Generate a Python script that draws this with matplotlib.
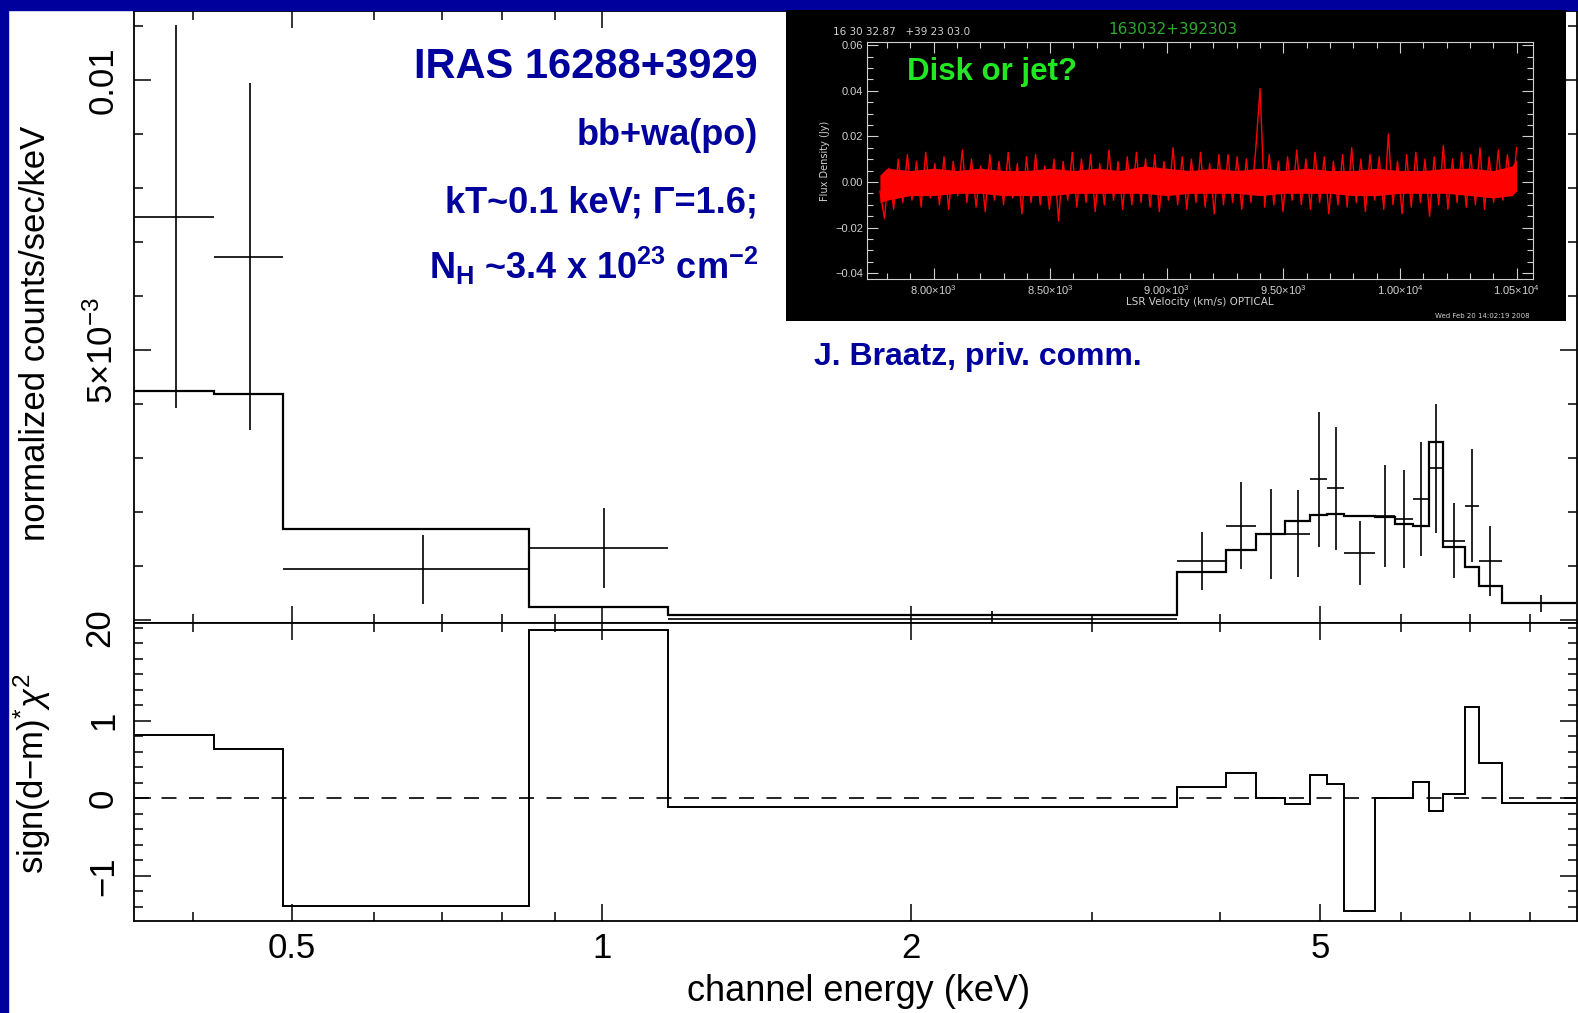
import numpy as np
import matplotlib
matplotlib.use("Agg")
import matplotlib.pyplot as plt
from matplotlib.patches import Rectangle
from matplotlib.ticker import FixedLocator, NullFormatter

plt.rcParams['font.family'] = ['Liberation Sans', 'DejaVu Sans']
plt.rcParams['mathtext.fontset'] = 'custom'
plt.rcParams['mathtext.rm'] = 'Liberation Sans'
plt.rcParams['mathtext.it'] = 'Liberation Sans:italic'
plt.rcParams['mathtext.bf'] = 'Liberation Sans:bold'

# spectrum bins (keV) and values
bin_edges = [0.3508, 0.42, 0.49, 0.85, 1.16, 3.63, 4.05, 4.33, 4.62, 4.89, 5.08,
             5.28, 5.66, 5.91, 6.16, 6.38, 6.58, 6.92, 7.13, 7.51, 8.88]
data_rate = [0.00747, 0.00673, 0.00094, 0.00133, 0.00002, 0.00109, 0.00175, 0.00159,
             0.00160, 0.00261, 0.00244, 0.00124, 0.00193, 0.00187, 0.00224, 0.00281,
             0.00147, 0.00212, 0.00109, 0.00031]
data_err = [0.00355, 0.00321, 0.00064, 0.00074, 0.00015, 0.00054, 0.00081, 0.00083,
            0.00080, 0.00125, 0.00114, 0.00059, 0.00094, 0.00091, 0.00105, 0.00120,
            0.00069, 0.00104, 0.00065, 0.00016]
model_rate = [0.00425, 0.00418, 0.00169, 0.00024, 0.00009, 0.00088, 0.00130, 0.00159,
              0.00184, 0.00194, 0.00196, 0.00193, 0.00190, 0.00178, 0.00175, 0.00330,
              0.00136, 0.00099, 0.00063, 0.00031]
resid = [0.82, 0.63, -1.39, 2.17, -0.11, 0.15, 0.32, 0.0, -0.08, 0.30, 0.19, -1.46,
         0.0, 0.01, 0.21, -0.17, 0.05, 1.18, 0.46, -0.055]

# inset: GBT spectrum, hand read envelope and channel values
vel_core = [7770, 7800, 7900, 8000, 8100, 8200, 8300, 8400, 8500, 8600, 8700, 8800,
            8900, 9000, 9100, 9200, 9300, 9400, 9500, 9600, 9700, 9800, 9900, 10000,
            10100, 10200, 10300, 10400, 10480, 10500]
core_hi = [0.003, 0.006, 0.005, 0.006, 0.005, 0.006, 0.005, 0.005, 0.006, 0.005,
           0.006, 0.005, 0.007, 0.006, 0.005, 0.006, 0.005, 0.006, 0.005, 0.006,
           0.005, 0.005, 0.006, 0.005, 0.005, 0.006, 0.006, 0.005, 0.007, 0.010]
core_lo = [-0.009, -0.008, -0.006, -0.006, -0.005, -0.005, -0.006, -0.006, -0.006,
           -0.005, -0.005, -0.005, -0.005, -0.006, -0.005, -0.005, -0.005, -0.006,
           -0.005, -0.005, -0.005, -0.006, -0.006, -0.005, -0.005, -0.005, -0.006,
           -0.007, -0.006, -0.004]
vel_start, vel_end = 7770, 10500
flux = [-0.004, -0.016, 0.006, -0.012, 0.010, -0.009, 0.012, -0.008, 0.009, -0.011,
        0.013, -0.007, 0.008, -0.010, 0.011, -0.012, 0.009, -0.006, 0.014, -0.009,
        0.010, -0.011, 0.007, -0.013, 0.012, -0.008, 0.009, -0.010, 0.013, -0.007,
        0.008, -0.014, 0.011, -0.009, 0.012, -0.010, 0.007, -0.012, 0.010, -0.017,
        0.009, -0.008, 0.013, -0.011, 0.010, -0.009, 0.012, -0.013, 0.008, -0.010,
        0.014, -0.008, 0.009, -0.012, 0.011, -0.010, 0.013, -0.009, 0.010, -0.011,
        0.012, -0.013, 0.009, -0.008, 0.015, -0.010, 0.011, -0.012, 0.010, -0.009,
        0.013, -0.011, 0.008, -0.014, 0.012, -0.010, 0.012, -0.009, 0.011, -0.012,
        0.010, -0.009, 0.013, 0.041, -0.011, 0.012, -0.010, 0.009, -0.013, 0.011,
        -0.008, 0.014, -0.010, 0.010, -0.012, 0.013, -0.009, 0.011, -0.014, 0.009,
        -0.010, 0.012, -0.011, 0.015, -0.009, 0.010, -0.013, 0.012, -0.008, 0.011,
        -0.012, 0.021, -0.010, 0.009, -0.014, 0.012, -0.011, 0.013, -0.009, 0.010,
        -0.015, 0.011, -0.010, 0.016, -0.012, 0.010, -0.009, 0.013, -0.011, 0.012,
        -0.010, 0.015, -0.012, 0.011, -0.009, 0.014, -0.008, 0.012, -0.006, 0.015]

W, H = 1578, 1013
NAVY = '#00009C'

def fx(x):
    return x / W

def fy(y):
    return 1 - y / H

fig = plt.figure(figsize=(W / 100, H / 100), dpi=100)
fig.patch.set_facecolor('white')

# blue slide border
fig.patches.append(Rectangle((0, fy(10)), 1, 10 / H, transform=fig.transFigure,
                             color=NAVY, zorder=0))
fig.patches.append(Rectangle((0, 0), 8 / W, 1, transform=fig.transFigure,
                             color=NAVY, zorder=0))

L, R = 134, 1577
ax1 = fig.add_axes([fx(L), fy(622.7), (R - L) / W, (622.7 - 11) / H])
ax2 = fig.add_axes([fx(L), fy(920.7), (R - L) / W, (920.7 - 622.7) / H])

edges = np.array(bin_edges)
lo, hi = edges[:-1], edges[1:]
xc = (lo + hi) / 2

ax1.stairs(model_rate, edges, baseline=None, color='k', lw=1.6)
ax1.errorbar(xc, data_rate, xerr=[xc - lo, hi - xc], yerr=data_err, fmt='none',
             ecolor='k', elinewidth=1.2, capsize=0)

ax2.stairs(resid, edges, baseline=None, color='k', lw=1.4)
ax2.axhline(0, color='k', lw=1.2, linestyle=(0, (9, 7.5)))

major_x = [0.5, 1, 2, 5]
minor_x = [0.4, 0.6, 0.7, 0.8, 0.9, 3, 4, 6, 7, 8]
for ax in (ax1, ax2):
    ax.set_xscale('log')
    ax.set_xlim(0.3508, 8.89)
    ax.xaxis.set_major_locator(FixedLocator(major_x))
    ax.xaxis.set_minor_locator(FixedLocator(minor_x))
    ax.xaxis.set_minor_formatter(NullFormatter())
    ax.tick_params(which='both', direction='in', top=True, right=True, width=1.1,
                   labelsize=25)
    ax.tick_params(which='major', length=12)
    ax.tick_params(which='minor', length=6.5)
    for s in ax.spines.values():
        s.set_linewidth(1.3)

ax1.set_ylim(-0.00005, 0.01128)
ax1.set_yticks([0, 0.005, 0.01], ['', r'$5{\times}10^{-3}$', '0.01'])
ax1.yaxis.set_minor_locator(FixedLocator(np.arange(0.001, 0.0115, 0.001)))
ax1.set_xticklabels([])
for t in ax1.get_yticklabels():
    t.set_rotation(90)
    t.set_va('center')
ax1.tick_params(axis='y', pad=10)

ax2.set_ylim(-1.58, 2.266)
ax2.set_yticks([-1, 0, 1], ['\u22121', '0', '1'])
ax2.yaxis.set_minor_locator(FixedLocator(np.arange(-1.4, 2.21, 0.2)))
ax2.set_xticks(major_x, ['0.5', '1', '2', '5'])
for t in ax2.get_yticklabels():
    t.set_rotation(90)
    t.set_va('center')
ax2.tick_params(axis='y', pad=10)
ax2.tick_params(axis='x', pad=8)

# merged "2"/"0" label at the panel junction
fig.text(fx(100), fy(628), '20', rotation=90, ha='center', va='center', fontsize=25)

fig.text(fx(45), fy(333), 'normalized counts/sec/keV', rotation=90,
         rotation_mode='anchor', ha='center', va='baseline', fontsize=25)
fig.text(fx(44), fy(774), r'sign(d$-$m)$^{*}\chi^{2}$', rotation=90,
         rotation_mode='anchor', ha='center', va='baseline', fontsize=25)
fig.text(fx(859), fy(1001), 'channel energy (keV)', ha='center', va='baseline',
         fontsize=26)

# annotations
fig.text(fx(758), fy(78), 'IRAS 16288+3929', ha='right', va='baseline',
         fontsize=30, fontweight='bold', color=NAVY)
fig.text(fx(758), fy(145), 'bb+wa(po)', ha='right', va='baseline',
         fontsize=26, fontweight='bold', color=NAVY)
fig.text(fx(758), fy(212), 'kT~0.1 keV; \u0393=1.6;', ha='right', va='baseline',
         fontsize=26, fontweight='bold', color=NAVY)
fig.text(fx(758), fy(279), r'N$_\mathbf{H}$ ~3.4 x 10$^\mathbf{23}$ cm$^\mathbf{-2}$',
         ha='right', va='baseline', fontsize=26, fontweight='bold', color=NAVY)
fig.text(fx(814), fy(365), 'J. Braatz, priv. comm.', ha='left', va='baseline',
         fontsize=23, fontweight='bold', color=NAVY)

# inset: black panel with the water maser spectrum
bg = fig.add_axes([fx(786), fy(321), (1566 - 786) / W, (321 - 10) / H], zorder=5)
bg.set_facecolor('black')
bg.set_xticks([])
bg.set_yticks([])
for s in bg.spines.values():
    s.set_visible(False)

GREY = '#d0d0d0'
ins = fig.add_axes([fx(867.3), fy(279.3), (1532.7 - 867.3) / W, (279.3 - 41.7) / H],
                   zorder=6)
ins.set_facecolor('black')
vel = np.linspace(vel_start, vel_end, len(flux))
ins.fill_between(vel_core, core_lo, core_hi, color='red', lw=0)
ins.plot(vel, flux, color='red', lw=1.0)
ins.set_xlim(7716, 10569)
ins.set_ylim(-0.0427, 0.0615)
ins.set_xticks([8000, 8500, 9000, 9500, 10000, 10500],
               [r'8.00$\times$10$^3$', r'8.50$\times$10$^3$', r'9.00$\times$10$^3$',
                r'9.50$\times$10$^3$', r'1.00$\times$10$^4$', r'1.05$\times$10$^4$'])
ins.xaxis.set_minor_locator(FixedLocator(np.arange(7800, 10600, 100)))
ins.set_yticks([-0.04, -0.02, 0, 0.02, 0.04, 0.06],
               ['\u22120.04', '\u22120.02', '0.00', '0.02', '0.04', '0.06'])
ins.yaxis.set_minor_locator(FixedLocator(np.arange(-0.04, 0.061, 0.005)))
ins.tick_params(which='both', direction='in', top=True, right=True, colors=GREY,
                labelcolor=GREY, labelsize=8, width=0.8, pad=3)
ins.tick_params(which='major', length=8)
ins.tick_params(which='minor', length=4)
for s in ins.spines.values():
    s.set_color(GREY)
    s.set_linewidth(0.8)
ins.set_xlabel('LSR Velocity (km/s) OPTICAL', color=GREY, fontsize=7.5,
               family='DejaVu Sans', labelpad=0)
ins.set_ylabel('Flux Density (Jy)', color=GREY, fontsize=7, family='DejaVu Sans',
               labelpad=4)

fig.text(fx(833), fy(35), '16 30 32.87   +39 23 03.0', color=GREY, fontsize=7.5,
         family='DejaVu Sans', zorder=10)
fig.text(fx(1108), fy(34), '163032+392303', color='#2faa2f', fontsize=11,
         family='DejaVu Sans', zorder=10)
fig.text(fx(1530), fy(318), 'Wed Feb 20 14:02:19 2008', color=GREY, fontsize=5,
         family='DejaVu Sans', ha='right', zorder=10)
fig.text(fx(907), fy(80), 'Disk or jet?', color='#22e822', fontsize=22.5,
         fontweight='bold', zorder=10)

fig.savefig('out.png', dpi=100)
